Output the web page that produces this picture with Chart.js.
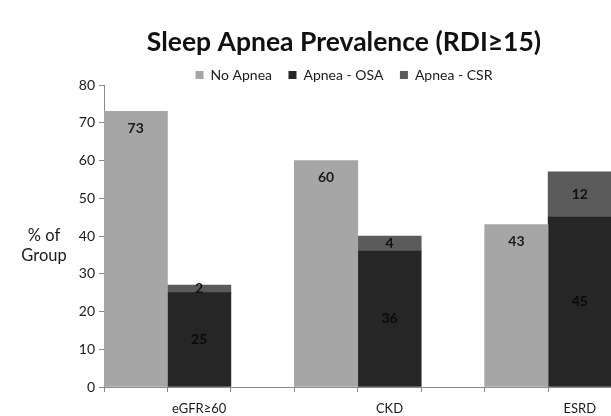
<!DOCTYPE html>
<html>
<head>
<meta charset="utf-8">
<script src="https://cdn.jsdelivr.net/npm/chart.js@4.4.0/dist/chart.umd.min.js"></script>
<style>
html, body { margin: 0; padding: 0; background: #fff; overflow: hidden; }
#wrap { width: 611px; height: 416px; overflow: hidden; }
</style>
</head>
<body>
<div id="wrap"><canvas id="apneaChart" width="690" height="416"></canvas></div>
<script>
var groupLabels = ['eGFR≥60', 'CKD', 'ESRD'];
var noApnea = [73, 60, 43];
var apneaOsa = [25, 36, 45];
var apneaCsr = [2, 4, 12];

// every group gets three slots: No Apnea, Apnea (OSA + CSR), empty
var slotLabels = [];
var noApneaSlots = [], osaSlots = [], csrSlots = [];
for (var i = 0; i < groupLabels.length; i++) {
	slotLabels.push('', groupLabels[i], '');
	noApneaSlots.push(noApnea[i], null, null);
	osaSlots.push(null, apneaOsa[i], null);
	csrSlots.push(null, apneaCsr[i], null);
}

Chart.defaults.font.family = "Lato, 'Open Sans', sans-serif";

var barLabels = {
	id: 'barLabels',
	afterDatasetsDraw: function(chart) {
		var ctx = chart.ctx;
		ctx.save();
		ctx.font = "bold 14px Lato, 'Open Sans', sans-serif";
		ctx.textAlign = 'center';
		ctx.textBaseline = 'middle';
		chart.data.datasets.forEach(function(ds, di) {
			var meta = chart.getDatasetMeta(di);
			ctx.fillStyle = ds.valueColor;
			meta.data.forEach(function(bar, idx) {
				var v = ds.data[idx];
				if (v === null) return;
				var y = ds.labelAt === 'top' ? bar.y + 17 : (bar.y + bar.base) / 2;
				ctx.fillText(v, bar.x, y);
			});
		});
		ctx.restore();
	}
};

var sideTitle = {
	id: 'sideTitle',
	afterDraw: function(chart) {
		var ctx = chart.ctx;
		ctx.save();
		ctx.font = "16.5px Lato, 'Open Sans', sans-serif";
		ctx.fillStyle = '#1a1a1a';
		ctx.textAlign = 'center';
		ctx.textBaseline = 'middle';
		ctx.fillText('% of', 44, 236);
		ctx.fillText('Group', 44, 256);
		ctx.restore();
	}
};

new Chart(document.getElementById('apneaChart'), {
	type: 'bar',
	data: {
		labels: slotLabels,
		datasets: [
			{ label: 'No Apnea', data: noApneaSlots, backgroundColor: '#a6a6a6', labelAt: 'top', valueColor: '#1a1a1a' },
			{ label: 'Apnea - OSA', data: osaSlots, backgroundColor: '#262626', valueColor: '#0a0a0a' },
			{ label: 'Apnea - CSR', data: csrSlots, backgroundColor: '#5b5b5b', valueColor: '#111' }
		]
	},
	options: {
		responsive: false,
		animation: false,
		devicePixelRatio: 1,
		layout: { padding: { left: 13, right: 15, top: 0, bottom: 0 } },
		datasets: { bar: { barPercentage: 1, categoryPercentage: 1 } },
		scales: {
			x: {
				stacked: true,
				offset: true,
				grid: { offset: true, drawOnChartArea: false, color: '#8a8a8a', tickLength: 5 },
				border: { color: '#8a8a8a' },
				ticks: { autoSkip: false, maxRotation: 0, padding: 9, color: '#1a1a1a', font: { size: 13 } },
				afterFit: function(s) { s.height = 29; }
			},
			y: {
				stacked: true,
				min: 0,
				max: 80,
				ticks: { stepSize: 10, padding: 4, color: '#1a1a1a', font: { size: 14 } },
				grid: { drawOnChartArea: false, color: '#8a8a8a', tickLength: 5 },
				border: { color: '#8a8a8a' },
				afterFit: function(s) { s.width = 91; }
			}
		},
		plugins: {
			title: {
				display: true,
				text: 'Sleep Apnea Prevalence (RDI≥15)',
				font: { size: 26.5, weight: 'bold' },
				color: '#111',
				padding: { top: 27, bottom: -7.3 }
			},
			legend: {
				maxHeight: 33.5,
				labels: { boxWidth: 8, boxHeight: 8, font: { size: 14 }, color: '#1a1a1a', padding: 16.5 }
			},
			tooltip: { enabled: false }
		}
	},
	plugins: [barLabels, sideTitle]
});
</script>
</body>
</html>
